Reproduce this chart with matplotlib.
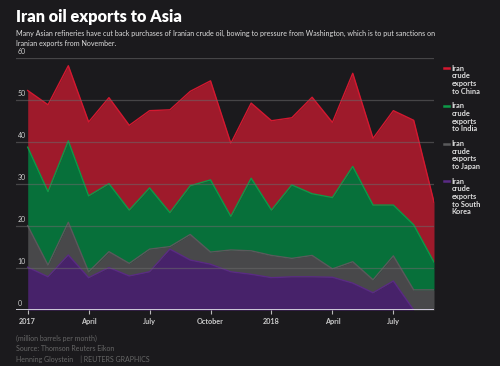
import matplotlib
matplotlib.use("Agg")
import matplotlib.pyplot as plt
from matplotlib.lines import Line2D
import numpy as np

# monthly exports, million barrels per month, Jan 2017 - Sep 2018
months = np.arange(21)
korea = [10.2, 7.9, 13.1, 7.7, 10.1, 8.1, 9.1, 14.5, 11.9, 10.9, 9.1,
         8.5, 7.7, 7.9, 7.9, 7.8, 6.4, 4.1, 6.9, 0.0, 0.0]
japan = [9.9, 2.8, 7.8, 1.4, 3.8, 3.0, 5.4, 0.6, 6.1, 2.9, 5.2,
         5.6, 5.3, 4.4, 5.1, 2.0, 5.1, 3.1, 6.0, 4.8, 4.8]
india = [18.7, 17.5, 19.4, 18.1, 16.2, 12.7, 14.6, 8.1, 11.6, 17.2, 8.0,
         17.3, 10.8, 17.5, 14.7, 17.0, 22.7, 17.8, 12.1, 15.5, 6.6]
china = [13.5, 20.7, 17.9, 17.6, 20.5, 20.2, 18.4, 24.5, 22.5, 23.6, 17.4,
         17.9, 21.3, 16.0, 23.0, 17.9, 22.2, 15.9, 22.5, 24.9, 14.3]

tick_pos = [0, 3, 6, 9, 12, 15, 18]
tick_labels = ["2017", "April", "July", "October", "2018", "April", "July"]
y_ticks = [0, 10, 20, 30, 40, 50, 60]

series = [
    ("Iran\ncrude\nexports\nto South\nKorea", korea, "#47226a", "#5a2a85"),
    ("Iran\ncrude\nexports\nto Japan", japan, "#48484a", "#5a5a5c"),
    ("Iran\ncrude\nexports\nto India", india, "#07703a", "#0d9a48"),
    ("Iran\ncrude\nexports\nto China", china, "#9e1a2b", "#d41830"),
]

BG = "#1b1a1d"
plt.rcParams["font.family"] = ["Lato", "DejaVu Sans"]

fig = plt.figure(figsize=(5.0, 3.66), dpi=100, facecolor=BG)
ax = fig.add_axes([0.032, 0.153, 0.836, 0.688], facecolor=BG)

base = np.zeros(len(months))
for label, vals, fill, line in series:
    top = base + np.array(vals)
    ax.fill_between(months, base, top, color=fill, lw=0, zorder=1)
    ax.plot(months, top, color=line, lw=1, zorder=2)
    base = top

# gridlines on top of the fills
for v in y_ticks[1:]:
    ax.axhline(v, color="#6a6a6a", lw=0.9, alpha=0.55, zorder=3)
    ax.text(-0.5, v + 0.8, str(v), color="#cccccc", fontsize=5, va="bottom",
            ha="left", zorder=4)
ax.text(-0.5, 0.8, "0", color="#cccccc", fontsize=5, va="bottom", ha="left", zorder=4)
ax.axhline(0, color="#e6e6ee", lw=1.2, zorder=4)

ax.set_xlim(-0.576, 20)
ax.set_ylim(0, 60)
for s in ax.spines.values():
    s.set_visible(False)
ax.set_yticks([])
ax.set_xticks(tick_pos)
ax.set_xticklabels(tick_labels, color="#cccccc", fontsize=5.2, fontweight="bold")
ax.tick_params(axis="x", length=3, width=0.8, color="#bbbbbb", pad=3)

# legend
leg_y = [0.823, 0.720, 0.617, 0.514]
for (label, vals, fill, line), y in zip(series[::-1], leg_y):
    yc = y - 3.5 / 366
    fig.add_artist(Line2D([0.887, 0.898], [yc, yc], color=line, lw=1.8,
                          transform=fig.transFigure))
    fig.text(0.903, y, label, color="#e0e0e0", fontsize=5.3, fontweight="bold",
             va="top", ha="left", linespacing=1.1)

fig.text(0.032, 0.94, "Iran oil exports to Asia", color="white", fontsize=11.8,
         fontweight="heavy", va="baseline", ha="left")
fig.text(0.032, 0.874,
         "Many Asian refineries have cut back purchases of Iranian crude oil, bowing to pressure from Washington, which is to put sanctions on\nIranian exports from November.",
         color="#dddddd", fontsize=5.1, va="baseline", ha="left", linespacing=1.5)
fig.text(0.032, 0.008,
         "(million barrels per month)\nSource: Thomson Reuters Eikon\nHenning Gloystein    | REUTERS GRAPHICS",
         color="#666666", fontsize=5, va="bottom", ha="left", linespacing=1.5)

fig.savefig("out.png", dpi=100, facecolor=BG)
